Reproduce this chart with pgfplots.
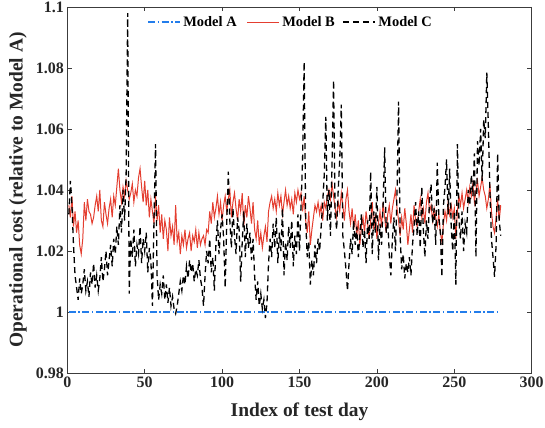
\documentclass[border=0pt]{standalone}
\usepackage{fontspec}
\setmainfont{Liberation Serif}
\usepackage{pgfplots}
\usepackage{pgfplotstable}
\pgfplotsset{compat=1.18}
\usetikzlibrary{calc}

\definecolor{modelA}{RGB}{35,125,235}
\definecolor{modelB}{RGB}{228,62,48}
\definecolor{axgray}{RGB}{60,60,60}

% day, Model B, Model C (Model A is the reference = 1)
\pgfplotstableread{
x B C
1 1.035 1.032
2 1.031 1.043
3 1.038 1.035
4 1.028 1.022
5 1.033 1.012
6 1.026 1.008
7 1.030 1.004
8 1.022 1.011
9 1.019 1.006
10 1.024 1.009
11 1.036 1.014
12 1.030 1.007
13 1.037 1.010
14 1.033 1.005
15 1.032 1.013
16 1.029 1.009
17 1.031 1.016
18 1.035 1.008
19 1.038 1.012
20 1.033 1.007
21 1.040 1.011
22 1.030 1.018
23 1.028 1.010
24 1.036 1.014
25 1.032 1.020
26 1.029 1.012
27 1.034 1.017
28 1.037 1.022
29 1.031 1.015
30 1.038 1.024
31 1.035 1.019
32 1.041 1.028
33 1.047 1.022
34 1.040 1.035
35 1.036 1.026
36 1.041 1.040
37 1.038 1.030
38 1.043 1.045
39 1.040 1.098
40 1.037 1.006
41 1.039 1.024
42 1.042 1.018
43 1.036 1.027
44 1.040 1.015
45 1.038 1.022
46 1.044 1.019
47 1.047 1.028
48 1.041 1.016
49 1.036 1.024
50 1.043 1.020
51 1.035 1.026
52 1.040 1.013
53 1.031 1.021
54 1.037 1.017
55 1.033 1.002
56 1.029 1.030
57 1.038 1.055
58 1.030 1.012
59 1.035 1.004
60 1.026 1.009
61 1.032 1.006
62 1.024 1.012
63 1.030 1.004
64 1.027 1.009
65 1.020 1.003
66 1.031 1.008
67 1.025 1.002
68 1.028 1.005
69 1.022 1.001
70 1.035 0.9995
71 1.023 1.002
72 1.026 1.006
73 1.019 1.010
74 1.025 1.007
75 1.022 1.012
76 1.027 1.009
77 1.021 1.015
78 1.024 1.011
79 1.026 1.017
80 1.020 1.013
81 1.025 1.016
82 1.023 1.010
83 1.027 1.014
84 1.021 1.012
85 1.026 1.017
86 1.022 1.011
87 1.024 1.008
88 1.025 1.002
89 1.022 1.012
90 1.027 1.020
91 1.026 1.016
92 1.033 1.024
93 1.029 1.013
94 1.036 1.018
95 1.031 1.007
96 1.034 1.022
97 1.038 1.030
98 1.032 1.019
99 1.036 1.027
100 1.030 1.032
101 1.035 1.024
102 1.038 1.008
103 1.033 1.029
104 1.037 1.046
105 1.040 1.030
106 1.031 1.021
107 1.036 1.034
108 1.039 1.025
109 1.034 1.019
110 1.030 1.031
111 1.037 1.027
112 1.033 1.010
113 1.039 1.023
114 1.028 1.033
115 1.035 1.018
116 1.031 1.029
117 1.038 1.021
118 1.034 1.026
119 1.029 1.017
120 1.036 1.024
121 1.027 1.012
122 1.024 1.004
123 1.030 1.010
124 1.022 1.002
125 1.026 1.006
126 1.021 1.001
127 1.025 1.004
128 1.028 0.998
129 1.023 1.003
130 1.033 1.016
131 1.036 1.024
132 1.038 1.018
133 1.034 1.029
134 1.037 1.021
135 1.033 1.031
136 1.039 1.016
137 1.035 1.026
138 1.038 1.020
139 1.032 1.034
140 1.036 1.012
141 1.040 1.023
142 1.035 1.017
143 1.038 1.028
144 1.034 1.021
145 1.037 1.030
146 1.032 1.015
147 1.039 1.025
148 1.036 1.019
149 1.040 1.032
150 1.037 1.020
151 1.039 1.035
152 1.033 1.050
153 1.038 1.082
154 1.030 1.030
155 1.026 1.018
156 1.033 1.023
157 1.022 1.009
158 1.027 1.017
159 1.031 1.012
160 1.035 1.022
161 1.033 1.016
162 1.036 1.024
163 1.032 1.020
164 1.035 1.028
165 1.030 1.036
166 1.036 1.045
167 1.034 1.064
168 1.038 1.030
169 1.040 1.040
170 1.037 1.025
171 1.042 1.048
172 1.038 1.076
173 1.034 1.032
174 1.031 1.027
175 1.036 1.040
176 1.033 1.050
177 1.039 1.068
178 1.035 1.025
179 1.030 1.020
180 1.037 1.014
181 1.040 1.007
182 1.033 1.016
183 1.029 1.024
184 1.034 1.019
185 1.027 1.030
186 1.032 1.022
187 1.025 1.028
188 1.030 1.018
189 1.022 1.025
190 1.028 1.032
191 1.031 1.021
192 1.026 1.027
193 1.033 1.016
194 1.029 1.030
195 1.024 1.024
196 1.030 1.046
197 1.036 1.019
198 1.027 1.033
199 1.032 1.026
200 1.024 1.041
201 1.029 1.017
202 1.033 1.029
203 1.028 1.022
204 1.036 1.035
205 1.031 1.054
206 1.026 1.026
207 1.032 1.030
208 1.035 1.019
209 1.029 1.012
210 1.034 1.024
211 1.037 1.031
212 1.040 1.020
213 1.034 1.039
214 1.030 1.069
215 1.025 1.025
216 1.031 1.014
217 1.027 1.019
218 1.034 1.011
219 1.029 1.016
220 1.022 1.013
221 1.027 1.018
222 1.032 1.012
223 1.026 1.022
224 1.035 1.028
225 1.030 1.036
226 1.028 1.025
227 1.033 1.033
228 1.037 1.021
229 1.031 1.041
230 1.034 1.027
231 1.029 1.018
232 1.036 1.030
233 1.039 1.024
234 1.033 1.037
235 1.035 1.042
236 1.030 1.029
237 1.034 1.034
238 1.031 1.022
239 1.028 1.049
240 1.032 1.031
241 1.026 1.026
242 1.023 1.0115
243 1.029 1.035
244 1.033 1.041
245 1.030 1.050
246 1.036 1.032
247 1.032 1.047
248 1.035 1.028
249 1.031 1.020
250 1.034 1.033
251 1.024 1.009
252 1.033 1.055
253 1.038 1.030
254 1.035 1.024
255 1.039 1.033
256 1.034 1.020
257 1.037 1.029
258 1.040 1.026
259 1.036 1.040
260 1.041 1.035
261 1.038 1.045
262 1.042 1.038
263 1.036 1.052
264 1.040 1.018
265 1.043 1.056
266 1.038 1.048
267 1.041 1.060
268 1.044 1.043
269 1.040 1.063
270 1.038 1.057
271 1.034 1.0785
272 1.037 1.061
273 1.042 1.040
274 1.033 1.024
275 1.028 1.018
276 1.026 1.0115
277 1.031 1.022
278 1.037 1.052
279 1.030 1.030
280 1.035 1.025
}\costdata

\tikzset{
  styA/.style={draw=modelA, line width=1.2bp, dash pattern=on 7bp off 2.5bp on 1.5bp off 2.5bp},
  styB/.style={draw=modelB, line width=1bp},
  styC/.style={draw=black, line width=1.3bp, dash pattern=on 6bp off 4bp},
  legtext/.style={anchor=west, inner sep=3bp, text=black, font=\bfseries\fontsize{14.5}{16}\selectfont},
}

\begin{document}
\begin{tikzpicture}
\begin{axis}[
  name=main,
  scale only axis,
  width=464.4bp, height=366bp,
  xmin=0, xmax=300, ymin=0.98, ymax=1.1,
  xtick={0,50,...,300},
  ytick={0.98,1,1.02,1.04,1.06,1.08,1.1},
  yticklabels={0.98,1,1.02,1.04,1.06,1.08,1.1},
  tick align=inside,
  major tick length=4.5bp,
  axis line style={axgray, line width=0.7bp},
  tick style={axgray, line width=0.7bp},
  tick label style={font=\bfseries\fontsize{16}{18}\selectfont, text=black!85},
  /pgf/number format/assume math mode=true,
  xlabel={Index of test day},
  ylabel={Operational cost (relative to Model A)},
  label style={font=\bfseries\fontsize{19.5}{22}\selectfont, text=black!85},
  xlabel style={at={(axis description cs:0.5,-0.106)}, anchor=center},
  ylabel style={at={(axis description cs:-0.106,0.5)}, anchor=center},
]
\addplot[styA] coordinates {(1,1) (280,1)};
\addplot[styB] table[x=x, y=B] {\costdata};
\addplot[styC] table[x=x, y=C] {\costdata};
% legend row along the top
\draw[styA] (axis description cs:0.174,0.959) -- (axis description cs:0.243,0.959);
\draw[styB] (axis description cs:0.387,0.959) -- (axis description cs:0.456,0.959);
\draw[styC] (axis description cs:0.594,0.959) -- (axis description cs:0.663,0.959);
\node[legtext] at (axis description cs:0.243,0.959) {Model A};
\node[legtext] at (axis description cs:0.456,0.959) {Model B};
\node[legtext] at (axis description cs:0.663,0.959) {Model C};
\end{axis}
\pgfresetboundingbox
\path[use as bounding box] ($(main.south west)+(-67.3bp,-55bp)$) rectangle ($(main.north east)+(13.3bp,7bp)$);
\end{tikzpicture}
\end{document}
